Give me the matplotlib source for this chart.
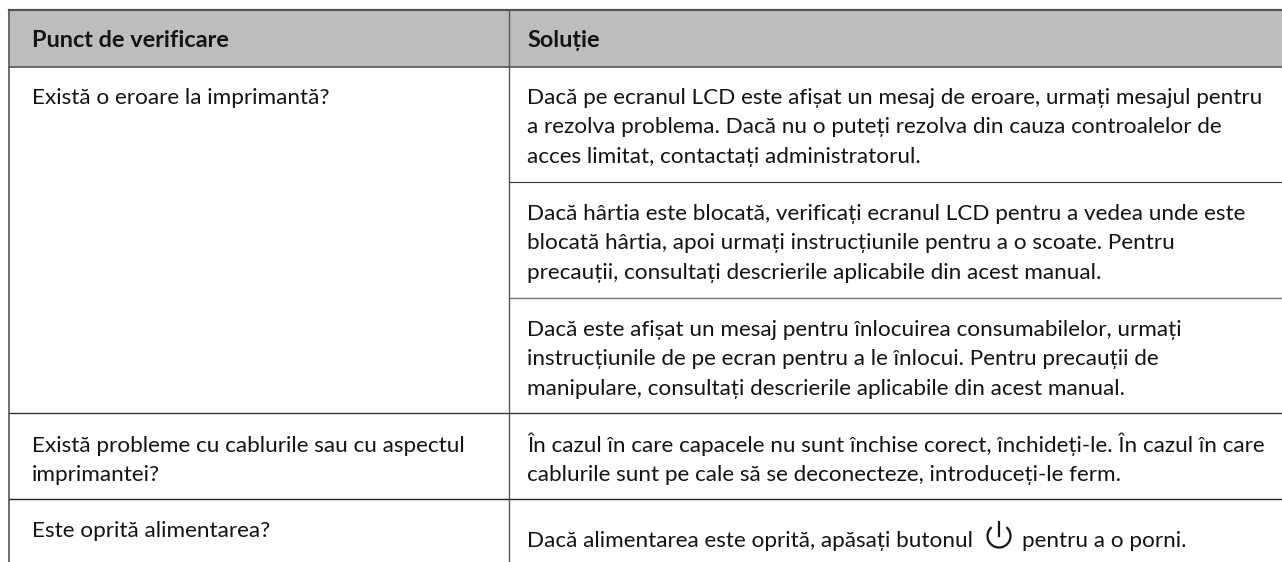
import matplotlib
matplotlib.use("Agg")
import matplotlib.pyplot as plt
from matplotlib.patches import Rectangle, Arc

plt.rcParams["font.family"] = ["Lato", "DejaVu Sans"]

# textele din tabel
headers = ["Punct de verificare", "Soluție"]
checks = [
    ["Există o eroare la imprimantă?"],
    ["Există probleme cu cablurile sau cu aspectul", "imprimantei?"],
    ["Este oprită alimentarea?"],
]
solutions = [
    ["Dacă pe ecranul LCD este afișat un mesaj de eroare, urmați mesajul pentru",
     "a rezolva problema. Dacă nu o puteți rezolva din cauza controalelor de",
     "acces limitat, contactați administratorul."],
    ["Dacă hârtia este blocată, verificați ecranul LCD pentru a vedea unde este",
     "blocată hârtia, apoi urmați instrucțiunile pentru a o scoate. Pentru",
     "precauții, consultați descrierile aplicabile din acest manual."],
    ["Dacă este afișat un mesaj pentru înlocuirea consumabilelor, urmați",
     "instrucțiunile de pe ecran pentru a le înlocui. Pentru precauții de",
     "manipulare, consultați descrierile aplicabile din acest manual."],
    ["În cazul în care capacele nu sunt închise corect, închideți-le. În cazul în care",
     "cablurile sunt pe cale să se deconecteze, introduceți-le ferm."],
    ["Dacă alimentarea este oprită, apăsați butonul", "pentru a o porni."],
]

fig = plt.figure(figsize=(12.82, 5.62), dpi=100)
ax = fig.add_axes([0, 0, 1, 1])
ax.set_xlim(0, 1282)
ax.set_ylim(562, 0)
ax.axis("off")

fs = 16.2
ink = "#141414"
line = "#555555"
left, mid, right = 8.5, 508.5, 1282
xl, xr = 32, 527

# antet
ax.add_patch(Rectangle((left, 10), right - left, 57, fc="#bdbdbd", ec="none"))
ax.text(xl, 47, headers[0], fontsize=16.9, fontweight="bold", color=ink, va="baseline")
ax.text(xr, 47, headers[1], fontsize=16.9, fontweight="bold", color=ink, va="baseline")

# linii
ax.plot([left, right], [10, 10], color=line, lw=1.6)
ax.plot([left, right], [67, 67], color=line, lw=1.2)
ax.plot([left, right], [413, 413], color="#333333", lw=1)
ax.plot([left, right], [499, 499], color="#222222", lw=1)
ax.plot([mid, right], [182, 182], color="#333333", lw=0.8)
ax.plot([mid, right], [298, 298], color="#777777", lw=1)
ax.plot([left, left], [10, 562], color=line, lw=1.2)
ax.plot([mid, mid], [10, 562], color=line, lw=1)

step = 29.3
check_y = [104, 452, 537]
for lines, y in zip(checks, check_y):
    for i, s in enumerate(lines):
        ax.text(xl, y + i * step, s, fontsize=fs, color=ink, va="baseline")

sol_y = [104, 220, 336, 452]
for lines, y in zip(solutions[:4], sol_y):
    for i, s in enumerate(lines):
        ax.text(xr, y + i * step, s, fontsize=fs, color=ink, va="baseline")

# ultimul rand, cu simbolul de pornire
ax.text(xr, 547, solutions[4][0], fontsize=fs, color=ink, va="baseline")
ax.text(1022, 547, solutions[4][1], fontsize=fs, color=ink, va="baseline")
ax.add_patch(Arc((999, 536), 23, 23, theta1=-50, theta2=230, color=ink, lw=1.6))
ax.plot([999, 999], [522, 536], color=ink, lw=1.6)

fig.savefig("out.png", dpi=100)
